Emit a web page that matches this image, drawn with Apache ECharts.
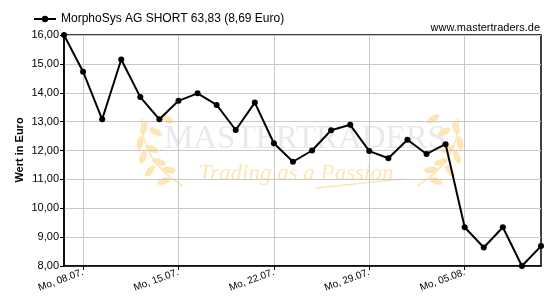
<!DOCTYPE html>
<html>
<head>
<meta charset="utf-8">
<script src="https://cdn.jsdelivr.net/npm/echarts@6/dist/echarts.min.js"></script>
<style>html,body{margin:0;padding:0;background:#fff}#c{width:550px;height:300px}</style>
</head>
<body>
<div id="c"></div>
<script>
const categories = [
  "Fr, 05.07.",
  "Mo, 08.07.", "Di, 09.07.", "Mi, 10.07.", "Do, 11.07.", "Fr, 12.07.",
  "Mo, 15.07.", "Di, 16.07.", "Mi, 17.07.", "Do, 18.07.", "Fr, 19.07.",
  "Mo, 22.07.", "Di, 23.07.", "Mi, 24.07.", "Do, 25.07.", "Fr, 26.07.",
  "Mo, 29.07.", "Di, 30.07.", "Mi, 31.07.", "Do, 01.08.", "Fr, 02.08.",
  "Mo, 05.08.", "Di, 06.08.", "Mi, 07.08.", "Do, 08.08.", "Fr, 09.08."
];
const values = [
  16.00,
  14.73, 13.08, 15.15, 13.85, 13.08,
  13.72, 13.98, 13.58, 12.71, 13.66,
  12.25, 11.61, 12.00, 12.70, 12.89,
  11.98, 11.73, 12.37, 11.88, 12.22,
  9.34, 8.64, 9.34, 8.00, 8.69
];
const seriesName = "MorphoSys AG SHORT 63,83 (8,69 Euro)";
const yAxisTitle = "Wert in Euro";
const sourceText = "www.mastertraders.de";
const yMin = 8, yMax = 16, yStep = 1;

const FONT = "Liberation Sans, Arial, sans-serif";
const isMonday = (i) => categories[i].startsWith("Mo");

// decorative watermark laurel leaves (left wreath; mirrored for right)
const leaves = [
  [167,119,-0.6],[144,128,1.3],[156,132,-0.5],[140,143,1.4],[152,149,-0.4],
  [143,157,1.2],[159,162,-0.3],[150,171,0.9],[169,170,-0.1],[164,181,0.4]
];
const WM = '#fde6b3';
const leafGraphics = [];
leaves.forEach(([x,y,r]) => {
  leafGraphics.push({type:'ellipse', z:0, silent:true, x:x, y:y, rotation:r, shape:{cx:0,cy:0,rx:7,ry:3.2}, style:{fill:WM}});
  leafGraphics.push({type:'ellipse', z:0, silent:true, x:600-x, y:y, rotation:-r, shape:{cx:0,cy:0,rx:7,ry:3.2}, style:{fill:WM}});
});
leafGraphics.push({type:'bezierCurve', z:0, silent:true, shape:{x1:142,y1:118,cpx1:140,cpy1:160,x2:183,y2:186}, style:{stroke:WM,lineWidth:1.5,fill:null}});
leafGraphics.push({type:'bezierCurve', z:0, silent:true, shape:{x1:458,y1:118,cpx1:460,cpy1:160,x2:417,y2:186}, style:{stroke:WM,lineWidth:1.5,fill:null}});

const chart = echarts.init(document.getElementById('c'), null, {renderer: 'canvas'});
chart.setOption({
  animation: false,
  backgroundColor: '#fff',
  textStyle: {fontFamily: FONT},
  grid: {left: 64, right: 9, top: 35, bottom: 34, show: true, borderColor: '#000', borderWidth: 1.5, backgroundColor: 'transparent'},
  legend: {
    left: 28, top: 8, itemWidth: 22, itemHeight: 8, itemGap: 5,
    textStyle: {fontFamily: FONT, fontSize: 12, color: '#000'},
    data: [seriesName]
  },
  graphic: [
    {type: 'text', right: 10, top: 22, style: {text: sourceText, font: '11px ' + FONT, fill: '#000'}},
    {type: 'text', x: 20, y: 150, rotation: Math.PI/2, style: {text: yAxisTitle, font: 'bold 11px ' + FONT, fill: '#000', align: 'center', verticalAlign: 'middle'}},
    {type: 'text', z: 0, silent: true, x: 305, y: 139, style: {text: 'MASTERTRADERS', font: '33px "Liberation Serif", serif', fill: '#e9e9e9', align: 'center', verticalAlign: 'middle'}},
    {type: 'text', z: 0, silent: true, x: 296, y: 174, style: {text: 'Trading as a Passion', font: 'italic 23px "Liberation Serif", serif', fill: WM, align: 'center', verticalAlign: 'middle'}},
    {type: 'line', z: 0, silent: true, shape: {x1: 316, y1: 188, x2: 403, y2: 179}, style: {stroke: WM, lineWidth: 1.5}}
  ].concat(leafGraphics),
  xAxis: {
    type: 'category', data: categories, boundaryGap: false,
    axisLine: {lineStyle: {color: '#000', width: 1.5}},
    axisTick: {show: true, alignWithLabel: true, length: 4, lineStyle: {color: '#000'}, interval: (i) => isMonday(i)},
    axisLabel: {interval: (i) => isMonday(i), rotate: 20, fontSize: 10, color: '#000', fontFamily: FONT, margin: 6},
    splitLine: {show: true, interval: (i) => isMonday(i), lineStyle: {color: '#c8c8c8', width: 1}}
  },
  yAxis: {
    type: 'value', min: yMin, max: yMax, interval: yStep,
    axisLine: {show: true, lineStyle: {color: '#000', width: 1.5}},
    axisTick: {show: true, length: 4, lineStyle: {color: '#000'}},
    axisLabel: {fontSize: 11, color: '#000', fontFamily: FONT, margin: 5, formatter: (v) => v.toFixed(2).replace('.', ',')},
    splitLine: {show: true, lineStyle: {color: '#c8c8c8', width: 1}}
  },
  series: [{
    name: seriesName, type: 'line', data: values,
    symbol: 'circle', symbolSize: 6, showAllSymbol: true,
    lineStyle: {color: '#000', width: 2},
    itemStyle: {color: '#000'}, z: 5
  }]
});
</script>
</body>
</html>
